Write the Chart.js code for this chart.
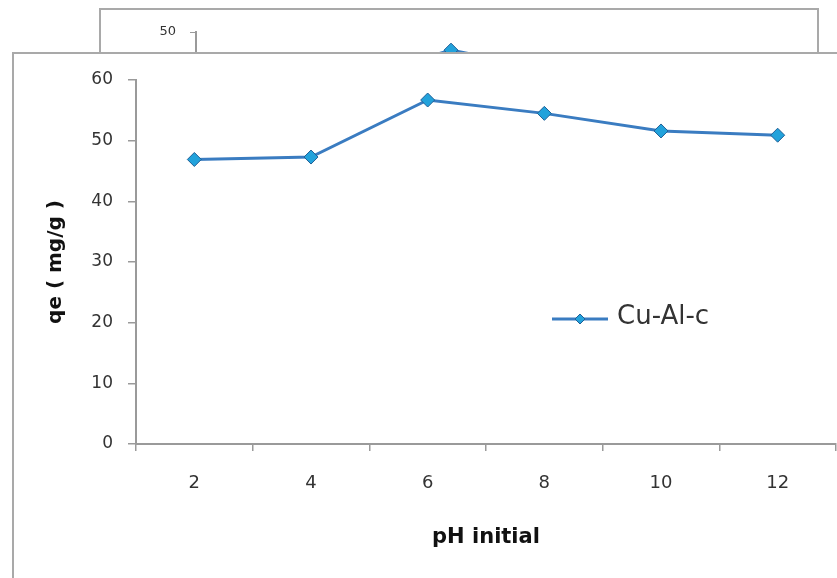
<!DOCTYPE html>
<html>
<head>
<meta charset="utf-8">
<title>qe vs pH initial</title>
<script src="https://cdn.jsdelivr.net/npm/chart.js@4.4.0/dist/chart.umd.min.js"></script>
<style>
  html, body { margin: 0; padding: 0; background: #fff; overflow: hidden; }
  body { width: 837px; height: 578px; position: relative; }
  .box { position: absolute; background: #fff; border: 2px solid #a9a9a9; }
  #backBox { left: 99px; top: 8px; z-index: 1; }
  #frontBox { left: 12px; top: 52px; z-index: 2; }
  canvas { display: block; }
</style>
</head>
<body>
<div id="backBox" class="box"><canvas id="back" width="716" height="330"></canvas></div>
<div id="frontBox" class="box"><canvas id="front" width="830" height="540"></canvas></div>

<script>
// pH values on the x axis
var phLabels = ['2', '4', '6', '8', '10', '12'];
// adsorbed quantity qe (mg/g) for Cu-Al-c
var qeCuAlC = [46.9, 47.3, 56.7, 54.5, 51.6, 50.9];
// series of the chart lying underneath (only its peak shows)
var qeUnder = [40.5, 41.2, 46.7, 43.0, 41.0, 40.6];

var yMaxFront = 60, yStepFront = 10;
var yMaxBack = 50, yStepBack = 10;

var lineBlue = '#3a7cc1';
var markerFill = '#22a2db';
var markerEdge = '#1f5f96';
var axisGray = '#9a9a9a';
var tickText = '#333333';

// legend drawn inside the plot, to the right
var inlineLegend = {
    id: 'inlineLegend',
    afterDraw: function(chart) {
        var ctx = chart.ctx;
        var area = chart.chartArea;
        var ds = chart.data.datasets[0];
        var x0 = area.left + 416;
        var y = area.top + 239;
        ctx.save();
        ctx.strokeStyle = ds.borderColor;
        ctx.lineWidth = 3;
        ctx.beginPath();
        ctx.moveTo(x0, y);
        ctx.lineTo(x0 + 56, y);
        ctx.stroke();
        ctx.fillStyle = ds.pointBackgroundColor;
        ctx.strokeStyle = ds.pointBorderColor;
        ctx.lineWidth = 1;
        Chart.helpers.drawPoint(ctx, { pointStyle: 'rectRot', radius: 5, borderWidth: 1, rotation: 0 }, x0 + 28, y);
        ctx.fillStyle = '#333';
        ctx.font = '26px "DejaVu Sans"';
        ctx.textBaseline = 'middle';
        ctx.textAlign = 'left';
        ctx.fillText(ds.label, x0 + 65, y - 1.5);
        ctx.restore();
    }
};

// chart behind
new Chart(document.getElementById('back'), {
    type: 'line',
    data: {
        labels: phLabels,
        datasets: [{
            label: 'under',
            data: qeUnder,
            borderColor: lineBlue,
            borderWidth: 3,
            pointStyle: 'rectRot',
            pointRadius: 7,
            pointBackgroundColor: markerFill,
            pointBorderColor: markerEdge,
            pointBorderWidth: 1,
            tension: 0
        }]
    },
    options: {
        responsive: false,
        animation: false,
        layout: { padding: { top: 22, right: 9, bottom: 0, left: 0 } },
        plugins: { legend: { display: false }, tooltip: { enabled: false } },
        scales: {
            x: {
                offset: true,
                grid: { offset: true, drawOnChartArea: false, tickLength: 6, color: axisGray },
                border: { color: axisGray, width: 2 },
                ticks: { font: { family: 'DejaVu Sans', size: 14 }, color: tickText },
                afterFit: function(s) { s.height = 33; }
            },
            y: {
                min: 0,
                max: yMaxBack,
                ticks: { stepSize: yStepBack, padding: 14, font: { family: 'DejaVu Sans', size: 13 }, color: tickText },
                grid: { drawOnChartArea: false, tickLength: 6, color: axisGray },
                border: { color: axisGray, width: 2 },
                afterFit: function(s) { s.width = 95; }
            }
        }
    }
});

// main chart
new Chart(document.getElementById('front'), {
    type: 'line',
    data: {
        labels: phLabels,
        datasets: [{
            label: 'Cu-Al-c',
            data: qeCuAlC,
            borderColor: lineBlue,
            borderWidth: 3,
            pointStyle: 'rectRot',
            pointRadius: 7,
            pointBackgroundColor: markerFill,
            pointBorderColor: markerEdge,
            pointBorderWidth: 1,
            tension: 0
        }]
    },
    options: {
        responsive: false,
        animation: false,
        layout: { padding: { top: 26, right: 8, bottom: 0, left: 0 } },
        plugins: { legend: { display: false }, tooltip: { enabled: false } },
        scales: {
            x: {
                offset: true,
                grid: { offset: true, drawOnChartArea: false, tickLength: 7, color: axisGray, lineWidth: 1.5 },
                border: { color: axisGray, width: 2 },
                ticks: { font: { family: 'DejaVu Sans', size: 18 }, color: tickText, padding: 22 },
                title: {
                    display: true,
                    text: 'pH initial',
                    color: '#111',
                    font: { family: 'DejaVu Sans', size: 21, weight: 'bold' },
                    padding: { top: 0, bottom: 44 }
                },
                afterFit: function(s) { s.height = 150; }
            },
            y: {
                min: 0,
                max: yMaxFront,
                ticks: { stepSize: yStepFront, padding: 15, font: { family: 'DejaVu Sans', size: 17 }, color: tickText },
                grid: { drawOnChartArea: false, tickLength: 8, color: axisGray, lineWidth: 1.5 },
                border: { color: axisGray, width: 2 },
                title: {
                    display: true,
                    text: 'qe ( mg/g )',
                    color: '#111',
                    font: { family: 'DejaVu Sans', size: 20, weight: 'bold' },
                    padding: { top: 30, bottom: 0 }
                },
                afterFit: function(s) { s.width = 122; }
            }
        }
    },
    plugins: [inlineLegend]
});
</script>
</body>
</html>
